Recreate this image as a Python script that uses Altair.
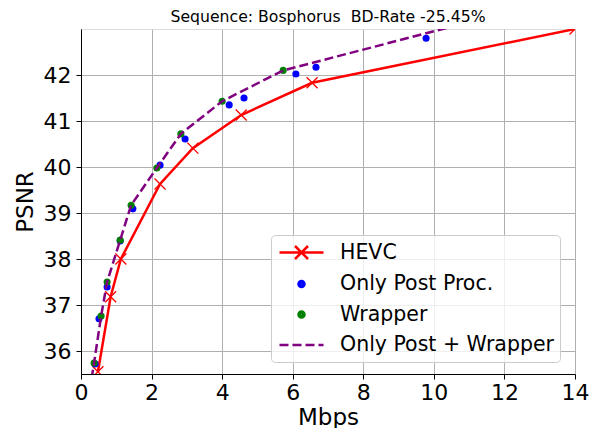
import altair as alt
import pandas as pd

# ---- data ----
hevc_rate = [0.48, 0.84, 1.13, 2.24, 3.17, 4.54, 6.55, 14.0]
hevc_psnr = [35.55, 37.18, 38.00, 39.63, 40.41, 41.13, 41.83, 43.0]

post_rate = [0.40, 0.51, 0.74, 1.11, 1.47, 2.24, 2.95, 4.20, 4.62, 6.09, 6.66, 9.78]
post_psnr = [35.72, 36.70, 37.39, 38.39, 39.09, 40.04, 40.61, 41.35, 41.50, 42.02, 42.17, 42.80]

wrap_rate = [0.37, 0.57, 0.74, 1.11, 1.42, 2.15, 2.83, 4.00, 5.73]
wrap_psnr = [35.74, 36.76, 37.50, 38.41, 39.17, 39.98, 40.72, 41.43, 42.10]

comb_rate = [0.30, 0.37, 0.57, 0.74, 1.11, 1.42, 2.15, 2.83, 4.00, 5.73, 10.6]
comb_psnr = [35.40, 35.74, 36.76, 37.50, 38.41, 39.17, 39.98, 40.72, 41.43, 42.10, 43.07]

series_names = ["HEVC", "Only Post Proc.", "Wrapper", "Only Post + Wrapper"]
series_colors = ["#ff0000", "#0000ff", "#008000", "#800080"]

x_ticks = [0, 2, 4, 6, 8, 10, 12, 14]
y_ticks = [36, 37, 38, 39, 40, 41, 42]

title_text = "Sequence: Bosphorus \u00a0BD-Rate -25.45%"

# ---- symbols ----
X_PATH = "M-1,-1L1,1M-1,1L1,-1"
LEG_HEVC = "M-2.2,0L2.2,0M-0.65,-0.65L0.65,0.65M-0.65,0.65L0.65,-0.65"
LEG_DOT = ("M0.3,0A0.3,0.3,0,1,1,-0.3,0A0.3,0.3,0,1,1,0.3,0Z"
           "M0.1,0A0.1,0.1,0,1,1,-0.1,0A0.1,0.1,0,1,1,0.1,0Z")
LEG_DASH = "M-2.2,0L-1.3,0M-0.9,0L0,0M0.4,0L1.3,0M1.7,0L2.2,0"

hevc_df = pd.DataFrame({"rate": hevc_rate, "psnr": hevc_psnr})
post_df = pd.DataFrame({"rate": post_rate, "psnr": post_psnr})
wrap_df = pd.DataFrame({"rate": wrap_rate, "psnr": wrap_psnr})
comb_df = pd.DataFrame({"rate": comb_rate, "psnr": comb_psnr})
leg_df = pd.DataFrame({"series": series_names})

axis_common = dict(
    grid=True, gridColor="#b0b0b0", gridWidth=1,
    domainColor="black", domainWidth=1,
    tickColor="black", tickSize=5, tickWidth=1,
    labelColor="black", labelFont="DejaVu Sans", labelFontSize=22,
    labelFlush=False, labelOverlap=False,
    titleColor="black", titleFont="DejaVu Sans", titleFontSize=23,
    titleFontWeight="normal",
)

x_enc = alt.X("rate:Q", scale=alt.Scale(domain=[0, 14], nice=False, zero=False),
              axis=alt.Axis(values=x_ticks, title="Mbps", labelPadding=3,
                            titlePadding=3, **axis_common))
y_enc = alt.Y("psnr:Q", scale=alt.Scale(domain=[35.5, 43.0], nice=False, zero=False),
              axis=alt.Axis(values=y_ticks, title="PSNR", labelPadding=5,
                            titlePadding=5.5, **axis_common))

hevc_line = alt.Chart(hevc_df).mark_line(color="#ff0000", strokeWidth=2.5, clip=True).encode(x=x_enc, y=y_enc)
hevc_pts = alt.Chart(hevc_df).mark_point(shape=X_PATH, filled=False, color="#ff0000",
                                          size=121, strokeWidth=1.3, opacity=1, clip=True).encode(x=x_enc, y=y_enc)
post_pts = alt.Chart(post_df).mark_circle(color="#0000ff", size=50, opacity=1, clip=True).encode(x=x_enc, y=y_enc)
wrap_pts = alt.Chart(wrap_df).mark_circle(color="#008000", size=50, opacity=1, clip=True).encode(x=x_enc, y=y_enc)
comb_line = alt.Chart(comb_df).mark_line(color="#800080", strokeWidth=2.5, strokeDash=[9, 4],
                                          clip=True).encode(x=x_enc, y=y_enc)

legend_layer = alt.Chart(leg_df).mark_point(filled=False, strokeWidth=2.5, opacity=1).encode(
    color=alt.Color("series:N",
                    scale=alt.Scale(domain=series_names, range=series_colors),
                    legend=alt.Legend(
                        title=None, orient="none", legendX=190, legendY=206,
                        labelFont="DejaVu Sans", labelFontSize=20.5, labelColor="black",
                        labelLimit=400, labelOffset=27,
                        symbolSize=400, symbolStrokeWidth=2.5, symbolOffset=13,
                        rowPadding=8.5, padding=6,
                        fillColor="rgba(255,255,255,0.8)", strokeColor="#cccccc",
                        cornerRadius=4,
                    )),
    shape=alt.Shape("series:N",
                    scale=alt.Scale(domain=series_names,
                                    range=[LEG_HEVC, LEG_DOT, LEG_DOT, LEG_DASH])),
).transform_filter("false")

chart = alt.layer(hevc_line, hevc_pts, post_pts, wrap_pts, comb_line, legend_layer).properties(
    width=494, height=345,
    title=alt.TitleParams(title_text, font="DejaVu Sans", fontSize=15.7, fontWeight="normal",
                          color="black", anchor="middle", offset=3.5),
    autosize=alt.AutoSizeParams(type="none"),
    padding={"left": 73, "top": 21, "right": 14, "bottom": 54},
).configure_view(stroke="black", strokeWidth=1).configure(background="white")

chart.save("out.html", embed_options={"renderer": "svg", "actions": False})
